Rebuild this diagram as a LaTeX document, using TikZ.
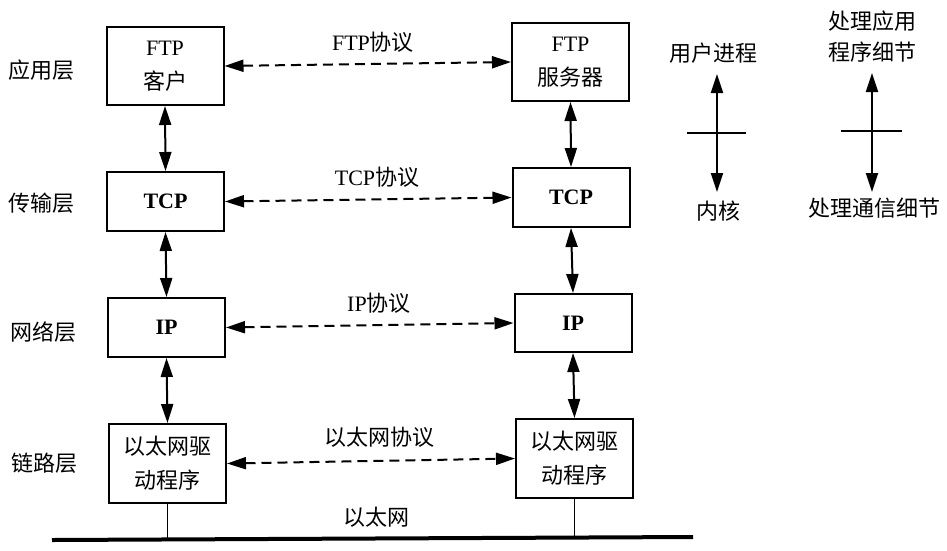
\documentclass[tikz,border=0pt]{standalone}
\usepackage{fontspec}
\setmainfont{Liberation Serif}
\newfontfamily\cjk{Noto Sans CJK SC}
\usetikzlibrary{arrows.meta}

\begin{document}
\begin{tikzpicture}[x=1pt, y=-1pt,
    livello/.style={draw, line width=2pt, minimum width=117pt, inner sep=0pt, align=center, font=\fontsize{22}{34}\selectfont},
    etichetta/.style={inner sep=0pt, align=center, font=\fontsize{22}{31}\selectfont},
    freccia/.style={arrows={Triangle[length=19pt,width=12pt]-Triangle[length=19pt,width=12pt]}, line width=2pt},
    protocollo/.style={freccia, dash pattern=on 10pt off 6pt}]
        \useasboundingbox (0,0) rectangle (947,550);

        % Nomi dei livelli
        \node[etichetta] (app) at (42,70) {\cjk 应用层};
        \node[etichetta] (tra) at (42,203) {\cjk 传输层};
        \node[etichetta] (net) at (43,332) {\cjk 网络层};
        \node[etichetta] (lnk) at (45,463) {\cjk 链路层};

        % Colonna sinistra (client)
        \node[livello, minimum height=78pt] (ftpc) at (165,66) {FTP\\{\cjk 客户}};
        \node[livello, minimum height=59pt] (tcpc) at (165.5,201.5) {\bfseries TCP};
        \node[livello, minimum height=59pt] (ipc) at (166.5,327.5) {\bfseries IP};
        \node[livello, minimum height=79pt] (ethc) at (167.5,463.5) {{\cjk 以太网驱}\\{\cjk 动程序}};

        % Colonna destra (server)
        \node[livello, minimum height=78pt] (ftps) at (570.5,62) {FTP\\{\cjk 服务器}};
        \node[livello, minimum height=59pt] (tcps) at (571,197.5) {\bfseries TCP};
        \node[livello, minimum height=58pt] (ips) at (573,323) {\bfseries IP};
        \node[livello, minimum height=79pt] (eths) at (574.5,458.5) {{\cjk 以太网驱}\\{\cjk 动程序}};

        % Frecce verticali tra i livelli
        \draw[freccia] (ftpc.south) -- (tcpc.north);
        \draw[freccia] (tcpc.south) -- (ipc.north);
        \draw[freccia] (ipc.south) -- (ethc.north);
        \draw[freccia] (ftps.south) -- (tcps.north);
        \draw[freccia] (tcps.south) -- (ips.north);
        \draw[freccia] (ips.south) -- (eths.north);

        % Protocolli (tratteggiati)
        \draw[protocollo] (ftpc.east) -- (ftps.west);
        \draw[protocollo] (tcpc.east) -- (tcps.west);
        \draw[protocollo] (ipc.east) -- (ips.west);
        \draw[protocollo] (ethc.east) -- (eths.west);
        \node[etichetta] (pftp) at (373,42) {FTP{\cjk 协议}};
        \node[etichetta] (ptcp) at (377,177) {TCP{\cjk 协议}};
        \node[etichetta] (pip) at (379,303) {IP{\cjk 协议}};
        \node[etichetta] (peth) at (379,437) {\cjk 以太网协议};

        % Cavo Ethernet
        \coordinate (busL) at (52,540);
        \coordinate (busR) at (693,537);
        \draw[line width=4pt] (busL) -- (busR);
        \draw[line width=1.2pt] (ethc.south) -- (ethc.south |- busL);
        \draw[line width=1.2pt] (eths.south) -- (eths.south |- busR);
        \node[etichetta] (eth) at (376,517) {\cjk 以太网};

        % Legenda: utente / kernel
        \node[etichetta] (user) at (713,53) {\cjk 用户进程};
        \node[etichetta] (kern) at (718,211) {\cjk 内核};
        \coordinate (u1) at (717,74);
        \coordinate (u2) at (717,192);
        \draw[freccia] (u1) -- (u2);
        \draw[line width=1.5pt] (687,133) -- (746,133);

        % Legenda: applicazione / comunicazione
        \node[etichetta] (appd) at (872,37) {{\cjk 处理应用}\\{\cjk 程序细节}};
        \node[etichetta] (comd) at (874,208) {\cjk 处理通信细节};
        \coordinate (d1) at (872,73);
        \coordinate (d2) at (872,192);
        \draw[freccia] (d1) -- (d2);
        \draw[line width=1.5pt] (841,131) -- (902,131);
\end{tikzpicture}
\end{document}
